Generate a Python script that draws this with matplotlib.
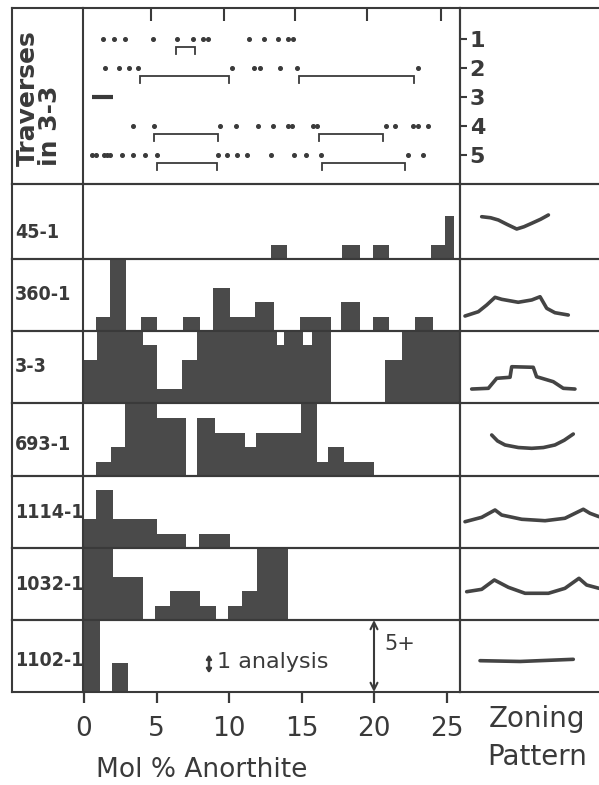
import matplotlib
matplotlib.use('Agg')
import matplotlib.pyplot as plt

# ---------------- data ----------------
samples = ['45-1', '360-1', '3-3', '693-1', '1114-1', '1032-1', '1102-1']

edges_45_1 = [12.9, 14.0, 17.8, 19.0, 19.9, 21.0, 23.9, 24.9, 25.5]
counts_45_1 = [1, 0, 1, 0, 1, 0, 1, 3]

edges_360_1 = [0.8, 1.8, 2.9, 3.9, 5.05, 6.85, 8.0, 8.9, 10.1, 11.8, 13.1,
               14.9, 17.0, 17.7, 19.0, 19.9, 21.0, 22.8, 24.1]
counts_360_1 = [1, 6, 0, 1, 0, 1, 0, 3, 1, 2, 0, 1, 0, 2, 0, 1, 0, 1]

edges_3_3 = [0, 0.9, 4.1, 5.05, 6.75, 7.8, 13.3, 13.8, 15.1, 15.75, 17.0,
             20.75, 21.9, 26.0]
counts_3_3 = [3, 6, 4, 1, 3, 6, 4, 6, 4, 6, 0, 3, 6]

edges_693_1 = [0.85, 1.85, 2.8, 5.05, 7.0, 7.8, 9.0, 11.1, 11.85, 14.95,
               16.05, 16.85, 17.95, 20.0]
counts_693_1 = [1, 2, 6, 4, 0, 4, 3, 2, 3, 6, 1, 2, 1]

edges_1114_1 = [0, 0.85, 2.0, 5.05, 7.0, 7.9, 10.05]
counts_1114_1 = [2, 4, 2, 1, 0, 1]

edges_1032_1 = [0, 2.0, 4.1, 4.9, 5.9, 8.0, 9.1, 9.9, 10.9, 11.9, 14.1]
counts_1032_1 = [6, 3, 0, 1, 2, 1, 0, 1, 2, 6]

edges_1102_1 = [0, 1.1, 1.9, 3.0]
counts_1102_1 = [6, 0, 2]

hist_edges = [edges_45_1, edges_360_1, edges_3_3, edges_693_1,
              edges_1114_1, edges_1032_1, edges_1102_1]
hist_counts = [counts_45_1, counts_360_1, counts_3_3, counts_693_1,
               counts_1114_1, counts_1032_1, counts_1102_1]

# traverses in 3-3 (positions in mol % An scale)
trav_ids = [1, 2, 3, 4, 5]
trav_1_dots = [1.33, 2.09, 2.83, 4.74, 6.39, 7.54, 8.23, 8.57, 11.4, 12.4, 13.4, 14.05, 14.4]
trav_1_brackets = [(6.32, 7.66)]
trav_2_dots = [1.45, 2.44, 3.12, 3.74, 10.23, 11.72, 12.14, 13.52, 14.67, 23.0]
trav_2_brackets = [(3.86, 10.0), (14.85, 22.78)]
trav_3_dots = []
trav_3_segment = (0.53, 2.02)
trav_3_brackets = []
trav_4_dots = [3.40, 4.83, 9.38, 10.46, 12.02, 13.06, 14.09, 14.32, 15.82, 16.09,
               20.83, 21.45, 22.71, 23.06, 23.74]
trav_4_brackets = [(4.83, 9.22), (16.23, 20.6)]
trav_5_dots = [0.53, 0.83, 1.4, 1.6, 1.8, 2.6, 3.4, 4.2, 5.01, 9.22, 9.84, 10.57,
               11.26, 12.87, 14.5, 15.29, 16.32, 22.32, 23.4]
trav_5_brackets = [(5.06, 9.15), (16.43, 22.14)]
trav_dots = [trav_1_dots, trav_2_dots, trav_3_dots, trav_4_dots, trav_5_dots]
trav_brackets = [trav_1_brackets, trav_2_brackets, trav_3_brackets,
                 trav_4_brackets, trav_5_brackets]
top_ticks = [4.6, 9.65, 14.55, 19.55, 24.65]

# schematic zoning patterns (relative position across grain, relative An)
zone_45_1 = ([0.156, 0.22, 0.276, 0.34, 0.408, 0.46, 0.516, 0.58, 0.636],
             [0.564, 0.55, 0.52, 0.46, 0.40, 0.43, 0.476, 0.53, 0.587])
zone_360_1 = ([0.036, 0.132, 0.192, 0.252, 0.300, 0.419, 0.516, 0.576, 0.624, 0.683, 0.779],
              [0.208, 0.268, 0.361, 0.468, 0.440, 0.399, 0.431, 0.476, 0.315, 0.254, 0.222])
zone_3_3 = ([0.084, 0.204, 0.264, 0.360, 0.372, 0.527, 0.551, 0.671, 0.743, 0.827],
            [0.194, 0.204, 0.343, 0.357, 0.504, 0.496, 0.365, 0.296, 0.204, 0.194])
zone_693_1 = ([0.228, 0.27, 0.324, 0.42, 0.516, 0.60, 0.683, 0.75, 0.815],
              [0.562, 0.48, 0.425, 0.39, 0.379, 0.39, 0.425, 0.49, 0.575])
zone_1114_1 = ([0.036, 0.156, 0.252, 0.300, 0.444, 0.612, 0.755, 0.887, 0.935, 1.0],
               [0.365, 0.426, 0.528, 0.458, 0.399, 0.379, 0.413, 0.538, 0.482, 0.435])
zone_1032_1 = ([0.048, 0.156, 0.247, 0.348, 0.468, 0.636, 0.755, 0.856, 0.911, 1.0],
               [0.393, 0.426, 0.556, 0.454, 0.371, 0.371, 0.440, 0.579, 0.486, 0.440])
zone_1102_1 = ([0.144, 0.432, 0.815], [0.435, 0.424, 0.454])
zones = [zone_45_1, zone_360_1, zone_3_3, zone_693_1, zone_1114_1, zone_1032_1, zone_1102_1]

x_ticks = [0, 5, 10, 15, 20, 25]

# ---------------- layout (pixels) ----------------
W, H = 599, 785
fig = plt.figure(figsize=(W / 100, H / 100), dpi=100)
fig.patch.set_facecolor('white')

INK = '#3a3a3a'
BAR = '#4a4a4a'
LW = 1.5
PX_PER_AN = 14.5
PX_PER_COUNT = 14.4

XL, XC, XR, XE = 12, 83, 460, 599
row_bounds = [(184, 259), (259, 331), (331, 403), (403, 476),
              (476, 548), (548, 620), (620, 692)]
label_y = [232, 295, 366, 444, 512, 585, 660]
TOP = 8


def box(x0, y0, x1, y1):
    return [x0 / W, 1 - y1 / H, (x1 - x0) / W, (y1 - y0) / H]


def style_frame(ax, sides=('left', 'right', 'top', 'bottom')):
    for s, sp in ax.spines.items():
        sp.set_visible(s in sides)
        sp.set_color(INK)
        sp.set_linewidth(LW)
    ax.set_xticks([])
    ax.set_yticks([])
    ax.patch.set_alpha(0)


xmin = (XC - 84) / PX_PER_AN
xmax = (XR - 84) / PX_PER_AN

# traverse panel
axl = fig.add_axes(box(XL, TOP, XC, 184))
style_frame(axl, ('left', 'top', 'bottom'))
fig.text(28 / W, 1 - 166 / H, 'Traverses', rotation=90, ha='center', va='bottom',
         fontsize=18, fontweight='bold', color=INK)
fig.text(50 / W, 1 - 166 / H, 'in 3-3', rotation=90, ha='center', va='bottom',
         fontsize=18, fontweight='bold', color=INK)

axt = fig.add_axes(box(XC, TOP, XR, 184))
style_frame(axt)
axt.set_xlim(xmin, xmax)
axt.set_ylim(6.0, 1 - (39 - TOP) / 29)
for tid, dots, brs in zip(trav_ids, trav_dots, trav_brackets):
    if dots:
        axt.plot(dots, [tid] * len(dots), 'o', ms=2.6, color=INK, mec=INK)
    for a, b in brs:
        yb = tid + 0.28
        axt.plot([a, a, b, b], [yb + 0.22, yb, yb, yb + 0.22], color=INK,
                 lw=1.3, solid_joinstyle='miter')
axt.plot(trav_3_segment, [3, 3], color=INK, lw=3, solid_capstyle='butt')
axt.set_xticks(top_ticks)
axt.tick_params(axis='x', which='both', top=True, bottom=False, labelbottom=False,
                direction='in', length=9, width=1.5, color=INK)
axt.yaxis.tick_right()
axt.set_yticks(trav_ids)
axt.set_yticklabels([str(t) for t in trav_ids])
axt.tick_params(axis='y', direction='out', length=5, width=1.5, color=INK,
                labelsize=16, labelcolor=INK, pad=2)
for t in axt.get_yticklabels():
    t.set_fontweight('bold')

axz0 = fig.add_axes(box(XR, TOP, XE + 5, 184))
style_frame(axz0, ('left', 'top', 'bottom'))

# histogram rows
for i, (name, (y0, y1)) in enumerate(zip(samples, row_bounds)):
    axl = fig.add_axes(box(XL, y0, XC, y1))
    style_frame(axl, ('left', 'top', 'bottom'))
    fig.text(15 / W, 1 - label_y[i] / H, name, ha='left', va='center',
             fontsize=14, fontweight='bold', fontstretch='condensed', color=INK)

    ax = fig.add_axes(box(XC, y0, XR, y1))
    style_frame(ax)
    ax.stairs(hist_counts[i], hist_edges[i], fill=True, color=BAR, lw=0)
    ax.set_xlim(xmin, xmax)
    ax.set_ylim(0, (y1 - y0) / PX_PER_COUNT)

    axz = fig.add_axes(box(XR, y0, XE + 5, y1))
    style_frame(axz, ('left', 'top', 'bottom'))
    axz.set_xlim(0, (XE + 5 - XR) / (XE - XR))
    axz.set_ylim(0, 1)
    u, v = zones[i]
    axz.plot(u, v, color='#444444', lw=2.6, solid_capstyle='round',
             solid_joinstyle='round')

    if i == len(samples) - 1:
        ax.set_xticks(x_ticks)
        ax.set_xticklabels([str(t) for t in x_ticks])
        ax.tick_params(axis='x', direction='out', length=8, width=1.6, color=INK,
                       labelsize=19, labelcolor=INK, pad=9)
        ax.annotate('', xy=(20, ax.get_ylim()[1]), xytext=(20, 0),
                    arrowprops=dict(arrowstyle='<->,head_length=0.5,head_width=0.25',
                                    color=INK, lw=1.5, shrinkA=0, shrinkB=0))
        ax.text(20.7, 3.3, '5+', ha='left', va='center', fontsize=15, color=INK)
        ax.annotate('', xy=(8.62, 2.6), xytext=(8.62, 1.3),
                    arrowprops=dict(arrowstyle='<|-|>,head_length=0.22,head_width=0.14',
                                    color=INK, lw=1.8, shrinkA=0, shrinkB=0))
        ax.text(9.2, 2.05, '1 analysis', ha='left', va='center', fontsize=16,
                color=INK)

fig.text(202 / W, 1 - 770 / H, 'Mol % Anorthite', ha='center', va='center',
         fontsize=19, color=INK)
fig.text(537 / W, 1 - 719 / H, 'Zoning', ha='center', va='center',
         fontsize=20, color=INK)
fig.text(537 / W, 1 - 757 / H, 'Pattern', ha='center', va='center',
         fontsize=20, color=INK)

fig.savefig('out.png', dpi=100, facecolor='white')
